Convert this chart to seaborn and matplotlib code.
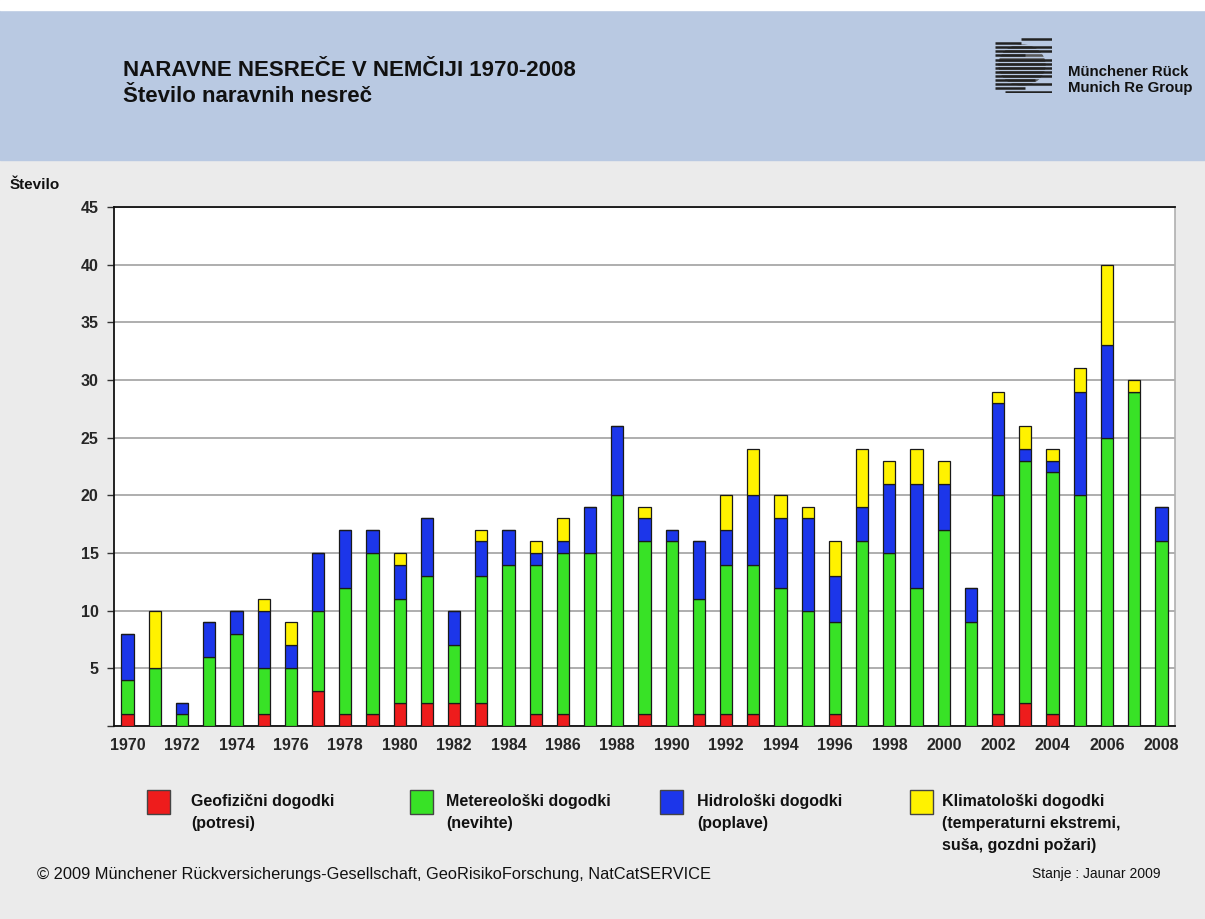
import numpy as np
import pandas as pd
import matplotlib.pyplot as plt
import seaborn as sns
from matplotlib.patches import Ellipse

# data
years = list(range(1970, 2009))
geofizicni = [1, 0, 0, 0, 0, 1, 0, 3, 1, 1, 2, 2, 2, 2, 0, 1, 1, 0, 0, 1,
              0, 1, 1, 1, 0, 0, 1, 0, 0, 0, 0, 0, 1, 2, 1, 0, 0, 0, 0]
metereoloski = [3, 5, 1, 6, 8, 4, 5, 7, 11, 14, 9, 11, 5, 11, 14, 13, 14, 15, 20, 15,
                16, 10, 13, 13, 12, 10, 8, 16, 15, 12, 17, 9, 19, 21, 21, 20, 25, 29, 16]
hidroloski = [4, 0, 1, 3, 2, 5, 2, 5, 5, 2, 3, 5, 3, 3, 3, 1, 1, 4, 6, 2,
              1, 5, 3, 6, 6, 8, 4, 3, 6, 9, 4, 3, 8, 1, 1, 9, 8, 0, 3]
klimatoloski = [0, 5, 0, 0, 0, 1, 2, 0, 0, 0, 1, 0, 0, 1, 0, 1, 2, 0, 0, 1,
                0, 0, 3, 4, 2, 1, 3, 5, 2, 3, 2, 0, 1, 2, 1, 2, 7, 1, 0]

series_names = ["Geofizični dogodki\n(potresi)",
                "Metereološki dogodki\n(nevihte)",
                "Hidrološki dogodki\n(poplave)",
                "Klimatološki dogodki\n(temperaturni ekstremi,\nsuša, gozdni požari)"]
series_colors = ["#ee1c1c", "#38e226", "#1c36ea", "#fff200"]

df = pd.DataFrame({"leto": [str(y) for y in years],
                   "geo": geofizicni, "met": metereoloski,
                   "hid": hidroloski, "kli": klimatoloski})

sns.set_theme(style="white")
plt.rcParams["font.family"] = ["Liberation Sans", "DejaVu Sans"]

header_color = "#b9c9e2"
fig = plt.figure(figsize=(12.05, 9.19), dpi=100)
fig.patch.set_facecolor("#ebebeb")

# header band
fig.patches.append(plt.Rectangle((0, 1 - 160 / 919), 1, 150 / 919,
                                 transform=fig.transFigure, color=header_color, zorder=-2))
fig.patches.append(plt.Rectangle((0, 1 - 10 / 919), 1, 10 / 919,
                                 transform=fig.transFigure, color="white", zorder=-2))

ax = fig.add_axes([114 / 1205, 1 - 726 / 919, (1175 - 114) / 1205, (726 - 207) / 919])
ax.set_facecolor("white")

bottom = np.zeros(len(years))
for col, color in zip(["geo", "met", "hid", "kli"], series_colors):
    sns.barplot(data=df, x="leto", y=col, color=color, bottom=bottom, width=0.45,
                edgecolor="#1a1a1a", linewidth=0.9, saturation=1, ax=ax, zorder=3)
    bottom = bottom + df[col].values

ax.set_xlim(-0.5, len(years) - 0.5)
ax.set_ylim(0, 45)
ax.set_yticks(range(0, 46, 5))
ax.set_yticklabels([""] + [str(v) for v in range(5, 46, 5)])
ax.yaxis.grid(True, color="#a8a8a8", linewidth=1.3, zorder=0)
ax.set_axisbelow(True)
ax.set_xlabel("")
ax.set_ylabel("")

ax.set_xticks(range(0, len(years), 2))
ax.set_xticklabels([str(y) for y in years[::2]])
ax.set_xticks(np.arange(-0.5, len(years), 1), minor=True)
ax.tick_params(axis="x", which="major", length=0, pad=9, labelsize=11.5)
ax.tick_params(axis="x", which="minor", length=5, width=1, color="#333333", direction="out")
ax.tick_params(axis="y", which="major", length=5, width=1, color="#333333",
               direction="out", left=True, pad=6, labelsize=11.5)
for lab in ax.get_xticklabels() + ax.get_yticklabels():
    lab.set_fontweight("bold")

for side in ["left", "bottom", "top"]:
    ax.spines[side].set_color("#111111")
    ax.spines[side].set_linewidth(1.3)
ax.spines["right"].set_color("#b0b0b0")
ax.spines["right"].set_linewidth(1.2)

# titles
fig.text(123 / 1205, 1 - 70 / 919, "NARAVNE NESREČE V NEMČIJI 1970-2008",
         fontsize=16, fontweight="bold", color="#111111", va="center")
fig.text(123 / 1205, 1 - 96 / 919, "Število naravnih nesreč",
         fontsize=16, fontweight="bold", color="#111111", va="center")
fig.text(10 / 1205, 1 - 185 / 919, "Število", fontsize=11, fontweight="bold",
         color="#111111", va="center")

# logo: striped sphere
logo = fig.add_axes([995 / 1205, 1 - 93 / 919, 57 / 1205, 56 / 919])
logo.set_xlim(0, 57)
logo.set_ylim(0, 56)
logo.axis("off")
logo.add_patch(Ellipse((27, 28), 46, 40, color="#5a5a5a", zorder=1))
stripes = [(26, 57), (0, 26), (0, 57), (0, 57), (0, 30), (0, 57), (0, 57),
           (0, 57), (0, 57), (0, 57), (0, 40), (0, 57), (0, 30), (10, 57)]
for i, (x0, x1) in enumerate(stripes):
    yy = 54 - i * 4.1
    logo.plot([0, 57], [yy - 2.05, yy - 2.05], color=header_color, linewidth=1.0, zorder=2)
    logo.plot([x0, x1], [yy, yy], color="#222222", linewidth=1.8,
              solid_capstyle="butt", zorder=3)
fig.text(1068 / 1205, 1 - 72 / 919, "Münchener Rück", fontsize=10.8, fontweight="bold",
         color="#111111", va="center")
fig.text(1068 / 1205, 1 - 88 / 919, "Munich Re Group", fontsize=10.8, fontweight="bold",
         color="#111111", va="center")

# legend
box_x = [147, 410, 660, 910]
text_x = [191, 446, 697, 942]
for bx, tx, name, color in zip(box_x, text_x, series_names, series_colors):
    fig.patches.append(plt.Rectangle((bx / 1205, 1 - 814 / 919), 23 / 1205, 24 / 919,
                                     transform=fig.transFigure, facecolor=color,
                                     edgecolor="#444444", linewidth=1, zorder=3))
    fig.text(tx / 1205, 1 - 794 / 919, name, fontsize=11.5, fontweight="bold",
             color="#111111", va="top", linespacing=1.58)

# footer
fig.text(37 / 1205, 1 - 874 / 919,
         "© 2009 Münchener Rückversicherungs-Gesellschaft, GeoRisikoForschung, NatCatSERVICE",
         fontsize=11.8, color="#111111", va="center")
fig.text(1160 / 1205, 1 - 874 / 919, "Stanje : Jaunar 2009", fontsize=10,
         color="#111111", va="center", ha="right")

fig.savefig("out.png", dpi=100, facecolor=fig.get_facecolor())
